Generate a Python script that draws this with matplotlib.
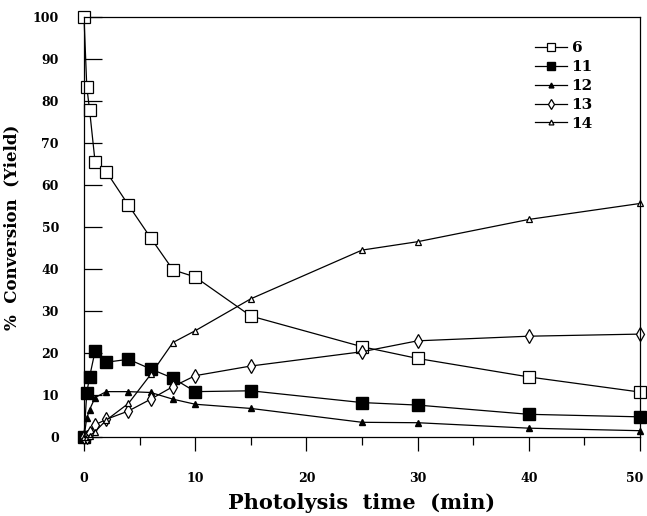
import numpy as np
import matplotlib.pyplot as plt
from matplotlib.ticker import MultipleLocator, FuncFormatter

# photolysis time (min)
t = [0, 0.25, 0.5, 1, 2, 4, 6, 8, 10, 15, 25, 30, 40, 50]

# % conversion / yield for each compound
y6 = [100, 83.4, 77.9, 65.4, 63.2, 55.2, 47.4, 39.8, 38.1, 28.8, 21.5, 18.7, 14.3, 10.7]
y11 = [0, 10.5, 14.3, 20.5, 17.8, 18.5, 16.2, 14.0, 10.8, 11.0, 8.2, 7.6, 5.4, 4.8]
y12 = [0, 4.5, 6.5, 9.4, 10.8, 10.8, 10.6, 9.0, 7.8, 6.8, 3.5, 3.4, 2.1, 1.5]
y13 = [0, 0, 0.9, 2.9, 4.2, 6.2, 9.0, 12.0, 14.6, 16.9, 20.3, 22.9, 24.0, 24.5]
y14 = [0, 0, 0.3, 1.3, 4.0, 8.0, 14.9, 22.5, 25.3, 32.9, 44.5, 46.5, 51.8, 55.6]

labels = ['6', '11', '12', '13', '14']

plt.rcParams['font.family'] = 'DejaVu Serif'
plt.rcParams['font.weight'] = 'bold'

fig = plt.figure(figsize=(6.47, 5.16), dpi=100)
ax = fig.add_axes([84/647, 1-437/516, (640-84)/647, (437-17)/516])

lw = 0.9
kw = dict(color='black', lw=lw, clip_on=False)
ax.plot(t, y6, marker='s', ms=8, mfc='white', mec='black', mew=0.9, label=labels[0], **kw)
ax.plot(t, y11, marker='s', ms=8, mfc='black', mec='black', label=labels[1], **kw)
ax.plot(t, y12, marker='^', ms=5, mfc='black', mec='black', label=labels[2], **kw)
ax.plot(t, y13, marker='d', ms=7, mfc='white', mec='black', mew=0.9, label=labels[3], **kw)
ax.plot(t, y14, marker='^', ms=5, mfc='white', mec='black', mew=0.9, label=labels[4], **kw)

ax.set_xlim(0, 50)
ax.set_ylim(0, 100)
ax.xaxis.set_major_locator(MultipleLocator(10))
ax.xaxis.set_minor_locator(MultipleLocator(5))
ax.yaxis.set_major_locator(MultipleLocator(10))

ax.tick_params(axis='y', direction='in', length=13, width=0.9, pad=18, labelsize=9)
ax.tick_params(axis='x', which='major', direction='out', length=10, width=0.9, pad=15, labelsize=9)
ax.tick_params(axis='x', which='minor', direction='out', length=6, width=0.9)
for s in ax.spines.values():
    s.set_linewidth(0.9)

# the "50" label sits at the figure edge: draw it a few px to the left
ax.xaxis.set_major_formatter(FuncFormatter(lambda v, p: '' if v >= 50 else f'{v:.0f}'))
ax.annotate('50', xy=(50, 0), xycoords=('data', 'axes fraction'),
            xytext=(-4, -25), textcoords='offset points',
            ha='center', va='top', fontsize=9, fontweight='bold')

ax.set_xlabel('Photolysis  time  (min)', fontsize=15, fontweight='bold', labelpad=6)
ax.set_ylabel('%  Conversion  (Yield)', fontsize=12, fontweight='bold', labelpad=9)

leg = ax.legend(loc='upper right', bbox_to_anchor=(0.94, 0.975), frameon=False,
                fontsize=11, handlelength=2.1, handletextpad=0.3, labelspacing=0.32,
                markerscale=0.7)

fig.savefig('out.png', dpi=100)
